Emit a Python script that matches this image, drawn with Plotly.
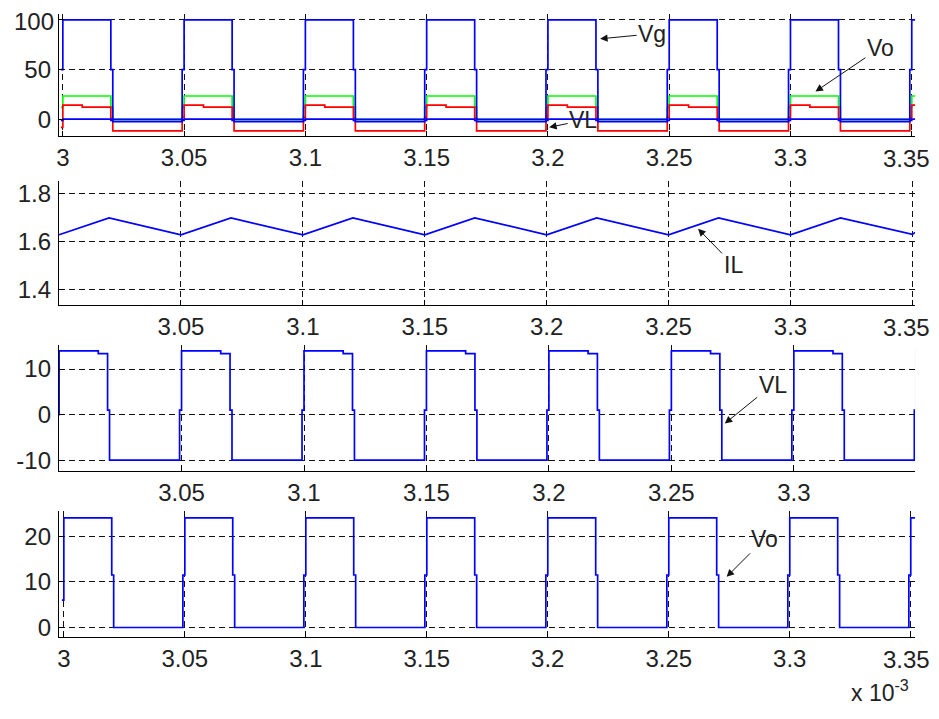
import plotly.graph_objects as go

# final picture size and the browser's default 8px body margin
W, H = 939, 719
M = 8
FW, FH = W - 2 * M, H - 2 * M

# ---------------- data (time axis in units of 1e-3 s) ----------------
t_sw = [2.9992, 3.0000, 3.0080, 3.0160, 3.0198, 3.0206,
        3.0492, 3.0500, 3.0580, 3.0660, 3.0698, 3.0706,
        3.0992, 3.1000, 3.1080, 3.1160, 3.1198, 3.1206,
        3.1492, 3.1500, 3.1580, 3.1660, 3.1698, 3.1706,
        3.1992, 3.2000, 3.2080, 3.2160, 3.2198, 3.2206,
        3.2492, 3.2500, 3.2580, 3.2660, 3.2698, 3.2706,
        3.2992, 3.3000, 3.3080, 3.3160, 3.3198, 3.3206,
        3.3492, 3.3500, 3.3518]

vg = [50, 100, 100, 100, 50, 0,
      50, 100, 100, 100, 50, 0,
      50, 100, 100, 100, 50, 0,
      50, 100, 100, 100, 50, 0,
      50, 100, 100, 100, 50, 0,
      50, 100, 100, 100, 50, 0,
      50, 100, 100, 100, 50, 0,
      50, 100, 100]

vo_top = [12, 23.5, 23.5, 23.5, 12, 0,
          12, 23.5, 23.5, 23.5, 12, 0,
          12, 23.5, 23.5, 23.5, 12, 0,
          12, 23.5, 23.5, 23.5, 12, 0,
          12, 23.5, 23.5, 23.5, 12, 0,
          12, 23.5, 23.5, 23.5, 12, 0,
          12, 23.5, 23.5, 23.5, 12, 0,
          12, 23.5, 23.5]

vl_top = [-8, 14.3, 12.3, 12.3, 1, -11.5,
          2, 14.3, 12.3, 12.3, 1, -11.5,
          2, 14.3, 12.3, 12.3, 1, -11.5,
          2, 14.3, 12.3, 12.3, 1, -11.5,
          2, 14.3, 12.3, 12.3, 1, -11.5,
          2, 14.3, 12.3, 12.3, 1, -11.5,
          2, 14.3, 12.3, 12.3, 1, -11.5,
          2, 14.3, 14.3]

aux_top = [-1, 0.3, 0.3, 0.3, -1, -2.3,
           -1, 0.3, 0.3, 0.3, -1, -2.3,
           -1, 0.3, 0.3, 0.3, -1, -2.3,
           -1, 0.3, 0.3, 0.3, -1, -2.3,
           -1, 0.3, 0.3, 0.3, -1, -2.3,
           -1, 0.3, 0.3, 0.3, -1, -2.3,
           -1, 0.3, 0.3, 0.3, -1, -2.3,
           -1, 0.3, 0.3]

vl = [0, 14, 14, 13.4, 1, -10,
      1, 14, 14, 13.4, 1, -10,
      1, 14, 14, 13.4, 1, -10,
      1, 14, 14, 13.4, 1, -10,
      1, 14, 14, 13.4, 1, -10,
      1, 14, 14, 13.4, 1, -10,
      1, 14, 14, 13.4, 1, -10,
      1, 14, 14]

vo = [6, 24, 24, 24, 11.5, 0,
      11.5, 24, 24, 24, 11.5, 0,
      11.5, 24, 24, 24, 11.5, 0,
      11.5, 24, 24, 24, 11.5, 0,
      11.5, 24, 24, 24, 11.5, 0,
      11.5, 24, 24, 24, 11.5, 0,
      11.5, 24, 24, 24, 11.5, 0,
      11.5, 24, 24]

t_il = [3.0000, 3.0205, 3.0500, 3.0705, 3.1000, 3.1205, 3.1500, 3.1705,
        3.2000, 3.2205, 3.2500, 3.2705, 3.3000, 3.3205, 3.3500, 3.3512]
il = [1.630, 1.700, 1.630, 1.700, 1.630, 1.700, 1.630, 1.700,
      1.630, 1.700, 1.630, 1.700, 1.630, 1.700, 1.632, 1.640]

x_ticks_1 = [3.00, 3.05, 3.10, 3.15, 3.20, 3.25, 3.30, 3.35]
x_labels_1 = ["3", "3.05", "3.1", "3.15", "3.2", "3.25", "3.3", "3.35"]
x_ticks_2 = [3.05, 3.10, 3.15, 3.20, 3.25, 3.30, 3.35]
x_labels_2 = ["3.05", "3.1", "3.15", "3.2", "3.25", "3.3", "3.35"]
x_ticks_3 = [3.05, 3.10, 3.15, 3.20, 3.25, 3.30]
x_labels_3 = ["3.05", "3.1", "3.15", "3.2", "3.25", "3.3"]

y_ticks_1 = [0, 50, 100]
y_labels_1 = ["0", "50", "100"]
y_ticks_2 = [1.4, 1.6, 1.8]
y_labels_2 = ["1.4", "1.6", "1.8"]
y_ticks_3 = [-10, 0, 10]
y_labels_3 = ["-10", "0", "10"]
y_ticks_4 = [0, 10, 20]
y_labels_4 = ["0", "10", "20"]

# ---------------- figure ----------------
FONT = "Liberation Sans, Arial, sans-serif"
BLUE, GREEN, RED = "#0000ff", "#00ff00", "#ff0000"
TXT = "#222"
LW = 1.7
FS = 24

fig = go.Figure()
fig.add_trace(go.Scatter(x=t_sw, y=vo_top, mode="lines", line=dict(color=GREEN, width=LW, shape="hv"), xaxis="x", yaxis="y"))
fig.add_trace(go.Scatter(x=t_sw, y=vl_top, mode="lines", line=dict(color=RED, width=LW, shape="hv"), xaxis="x", yaxis="y"))
fig.add_trace(go.Scatter(x=t_sw, y=aux_top, mode="lines", line=dict(color=BLUE, width=LW, shape="hv"), xaxis="x", yaxis="y"))
fig.add_trace(go.Scatter(x=t_sw, y=vg, mode="lines", line=dict(color=BLUE, width=LW, shape="hv"), xaxis="x", yaxis="y"))
fig.add_trace(go.Scatter(x=t_il, y=il, mode="lines", line=dict(color=BLUE, width=LW), xaxis="x2", yaxis="y2"))
fig.add_trace(go.Scatter(x=t_sw, y=vl, mode="lines", line=dict(color=BLUE, width=LW, shape="hv"), xaxis="x3", yaxis="y3"))
fig.add_trace(go.Scatter(x=t_sw, y=vo, mode="lines", line=dict(color=BLUE, width=LW, shape="hv"), xaxis="x4", yaxis="y4"))

# pixel positions in the final picture -> figure-relative fractions
XDOM = [(56 - M) / FW, (915 - M) / FW]


def px_x(px):
    return (px - M) / FW


def px_y(py):
    return 1 - (py - M) / FH


def ydom(top_px, bot_px):
    return [px_y(bot_px), px_y(top_px)]


common = dict(showline=True, linecolor="black", linewidth=1, ticks="inside", ticklen=5,
              tickcolor="black", showgrid=True, gridcolor="#111", gridwidth=1,
              griddash="6px,4px", zeroline=False, mirror=False,
              tickfont=dict(family=FONT, size=FS, color=TXT))


def blank_edge(labels, edge_label):
    # labels sitting at the very edge of the page are written as annotations below
    return ["" if s == edge_label else s for s in labels]


def xax(rng, tv, tt, anchor):
    return dict(common, domain=XDOM, range=rng, tickvals=tv, ticktext=blank_edge(tt, "3.35"),
                anchor=anchor, ticklabelstandoff=0)


def yax(dom, rng, tv, tt, anchor):
    return dict(common, domain=dom, range=rng, tickvals=tv, ticktext=blank_edge(tt, "100"),
                anchor=anchor, ticklabelstandoff=2)


fig.update_layout(
    width=FW, height=FH,
    margin=dict(l=0, r=0, t=0, b=0, pad=0),
    paper_bgcolor="white", plot_bgcolor="white",
    showlegend=False,
    font=dict(family=FONT, color=TXT),
    xaxis=xax([2.99836, 3.35136], x_ticks_1, x_labels_1, "y"),
    yaxis=yax(ydom(14, 137), [-17, 106], y_ticks_1, y_labels_1, "x"),
    xaxis2=xax([2.99990, 3.35110], x_ticks_2, x_labels_2, "y2"),
    yaxis2=yax(ydom(181.7, 306.7), [1.3375, 1.855], y_ticks_2, y_labels_2, "x2"),
    xaxis3=xax([2.99990, 3.34950], x_ticks_3, x_labels_3, "y3"),
    yaxis3=yax(ydom(347.3, 474), [-12.45, 15.2], y_ticks_3, y_labels_3, "x3"),
    xaxis4=xax([2.99794, 3.35177], x_ticks_1, x_labels_1, "y4"),
    yaxis4=yax(ydom(514, 640.7), [-2.1, 25.5], y_ticks_4, y_labels_4, "x4"),
)

# edge tick labels
lab = dict(showarrow=False, font=dict(family=FONT, size=FS, color=TXT), borderpad=0)
for row_y in (159, 329, 663):
    fig.add_annotation(lab, text=x_labels_1[-1], xref="paper", yref="paper",
                       x=1.0, y=px_y(row_y), xanchor="right", yanchor="middle")
fig.add_annotation(lab, text=y_labels_1[-1], xref="paper", yref="paper",
                   x=px_x(52), y=px_y(22), xanchor="right", yanchor="middle")

# arrows with signal names
arrow = dict(showarrow=True, arrowhead=2, arrowsize=1.5, arrowwidth=1,
             arrowcolor="#111", font=dict(family=FONT, size=23, color=TXT))
fig.add_annotation(arrow, x=3.2215, y=81, xref="x", yref="y", ax=52, ay=-5, text="Vg")
fig.add_annotation(arrow, x=3.3103, y=28, xref="x", yref="y", ax=65, ay=-44, text="Vo")
fig.add_annotation(arrow, x=3.2005, y=-8, xref="x", yref="y", ax=34, ay=-7, text="VL")
fig.add_annotation(arrow, x=3.2621, y=1.655, xref="x2", yref="y2", ax=35, ay=36, text="IL")
fig.add_annotation(arrow, x=3.2718, y=-1.97, xref="x3", yref="y3", ax=48, ay=-39, text="VL")
fig.add_annotation(arrow, x=3.2739, y=11.1, xref="x4", yref="y4", ax=38, ay=-38, text="Vo")

fig.add_annotation(x=px_x(880), y=px_y(711), xref="paper", yref="paper",
                   xanchor="center", yanchor="bottom", borderpad=0,
                   showarrow=False, text="x 10<sup>-3</sup>",
                   font=dict(family=FONT, size=23, color=TXT))

fig.write_html("out.html", config={"displayModeBar": False})
